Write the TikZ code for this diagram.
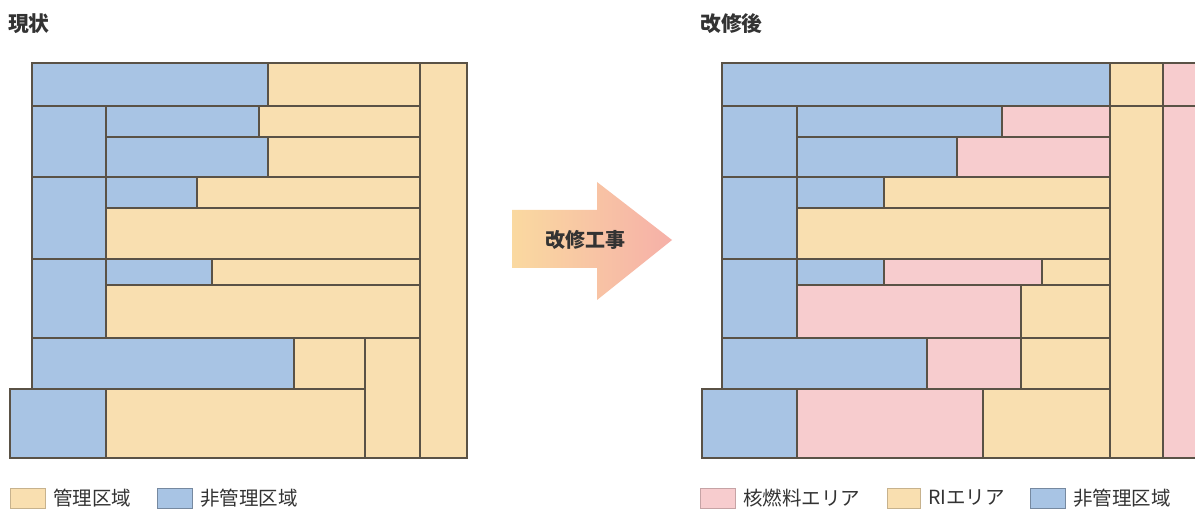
\documentclass[tikz,border=0pt]{standalone}
\usepackage{fontspec}
\newfontfamily\jp{Noto Sans CJK JP}
\definecolor{cblue}{HTML}{A8C4E4}
\definecolor{cyel}{HTML}{F9DFB0}
\definecolor{cpink}{HTML}{F7CCCE}
\definecolor{cline}{HTML}{5A5246}
\definecolor{ctext}{HTML}{333333}
\definecolor{arrL}{HTML}{FAD9A0}
\definecolor{arrR}{HTML}{F6B0A8}
\tikzset{
  bl/.style={fill=cblue,draw=cline,line width=1.6pt},
  ye/.style={fill=cyel,draw=cline,line width=1.6pt},
  pk/.style={fill=cpink,draw=cline,line width=1.6pt},
  lgb/.style={line width=0.8pt},
  ttl/.style={font=\jp\bfseries\fontsize{20.8}{21}\selectfont,text=ctext,anchor=west,inner sep=0pt},
  lgt/.style={font=\jp\fontsize{19.5}{20}\selectfont,text=ctext,anchor=west,inner sep=0pt},
}
\begin{document}
\begin{tikzpicture}[x=1pt,y=-1pt]
\useasboundingbox (0,0) rectangle (1195,510);
\fill[white] (0,0) rectangle (1195,510);
% titles
\node[ttl] (t1) at (8,24) {現状};
\node[ttl] (t2) at (700,24) {改修後};
% ---------- left plan ----------
\draw[ye] (420,63) rectangle (467,458);
\draw[bl] (32,63) rectangle (268,106);
\draw[ye] (268,63) rectangle (420,106);
\draw[bl] (32,106) rectangle (106,177);
\draw[bl] (106,106) rectangle (259,137);
\draw[ye] (259,106) rectangle (420,137);
\draw[bl] (106,137) rectangle (268,177);
\draw[ye] (268,137) rectangle (420,177);
\draw[bl] (32,177) rectangle (106,259);
\draw[bl] (106,177) rectangle (197,208);
\draw[ye] (197,177) rectangle (420,208);
\draw[ye] (106,208) rectangle (420,259);
\draw[bl] (32,259) rectangle (106,338);
\draw[bl] (106,259) rectangle (212,285);
\draw[ye] (212,259) rectangle (420,285);
\draw[ye] (106,285) rectangle (420,338);
\draw[bl] (32,338) rectangle (294,389);
\draw[ye] (294,338) rectangle (365,389);
\draw[ye] (365,338) rectangle (420,458);
\draw[bl] (10,389) rectangle (106,458);
\draw[ye] (106,389) rectangle (365,458);
% ---------- arrow ----------
\shade[left color=arrL,right color=arrR]
  (512,210) -- (597,210) -- (597,182) -- (672,240) -- (597,300) -- (597,268) -- (512,268) -- cycle;
\node[font=\jp\bfseries\fontsize{20}{20}\selectfont,text=ctext] (arrtxt) at (585,240) {改修工事};
% ---------- right plan ----------
\draw[ye] (1110,63) rectangle (1163,106);
\draw[pk] (1163,63) rectangle (1215,106);
\draw[ye] (1110,106) rectangle (1163,458);
\draw[pk] (1163,106) rectangle (1215,458);
\draw[bl] (722,63) rectangle (1110,106);
\draw[bl] (722,106) rectangle (797,177);
\draw[bl] (797,106) rectangle (1002,137);
\draw[pk] (1002,106) rectangle (1110,137);
\draw[bl] (797,137) rectangle (957,177);
\draw[pk] (957,137) rectangle (1110,177);
\draw[bl] (722,177) rectangle (797,259);
\draw[bl] (797,177) rectangle (884,208);
\draw[ye] (884,177) rectangle (1110,208);
\draw[ye] (797,208) rectangle (1110,259);
\draw[bl] (722,259) rectangle (797,338);
\draw[bl] (797,259) rectangle (884,285);
\draw[pk] (884,259) rectangle (1042,285);
\draw[ye] (1042,259) rectangle (1110,285);
\draw[pk] (797,285) rectangle (1021,338);
\draw[ye] (1021,285) rectangle (1110,338);
\draw[bl] (722,338) rectangle (927,389);
\draw[pk] (927,338) rectangle (1021,389);
\draw[ye] (1021,338) rectangle (1110,389);
\draw[bl] (702,389) rectangle (797,458);
\draw[pk] (797,389) rectangle (983,458);
\draw[ye] (983,389) rectangle (1110,458);
% ---------- legends ----------
\draw[lgb,fill=cyel,draw=cyel!80!black] (10,488) rectangle (45,508);
\node[lgt] (l1) at (53,498) {管理区域};
\draw[lgb,fill=cblue,draw=cblue!70!black] (157,488) rectangle (192,508);
\node[lgt] (l2) at (200,498) {非管理区域};
\draw[lgb,fill=cpink,draw=cpink!80!black] (700,488) rectangle (735,508);
\node[lgt] (l3) at (743,498) {核燃料エリア};
\draw[lgb,fill=cyel,draw=cyel!80!black] (887,488) rectangle (920,508);
\node[lgt] (l4) at (928,498) {RIエリア};
\draw[lgb,fill=cblue,draw=cblue!70!black] (1030,488) rectangle (1065,508);
\node[lgt] (l5) at (1073,498) {非管理区域};
\end{tikzpicture}
\end{document}
